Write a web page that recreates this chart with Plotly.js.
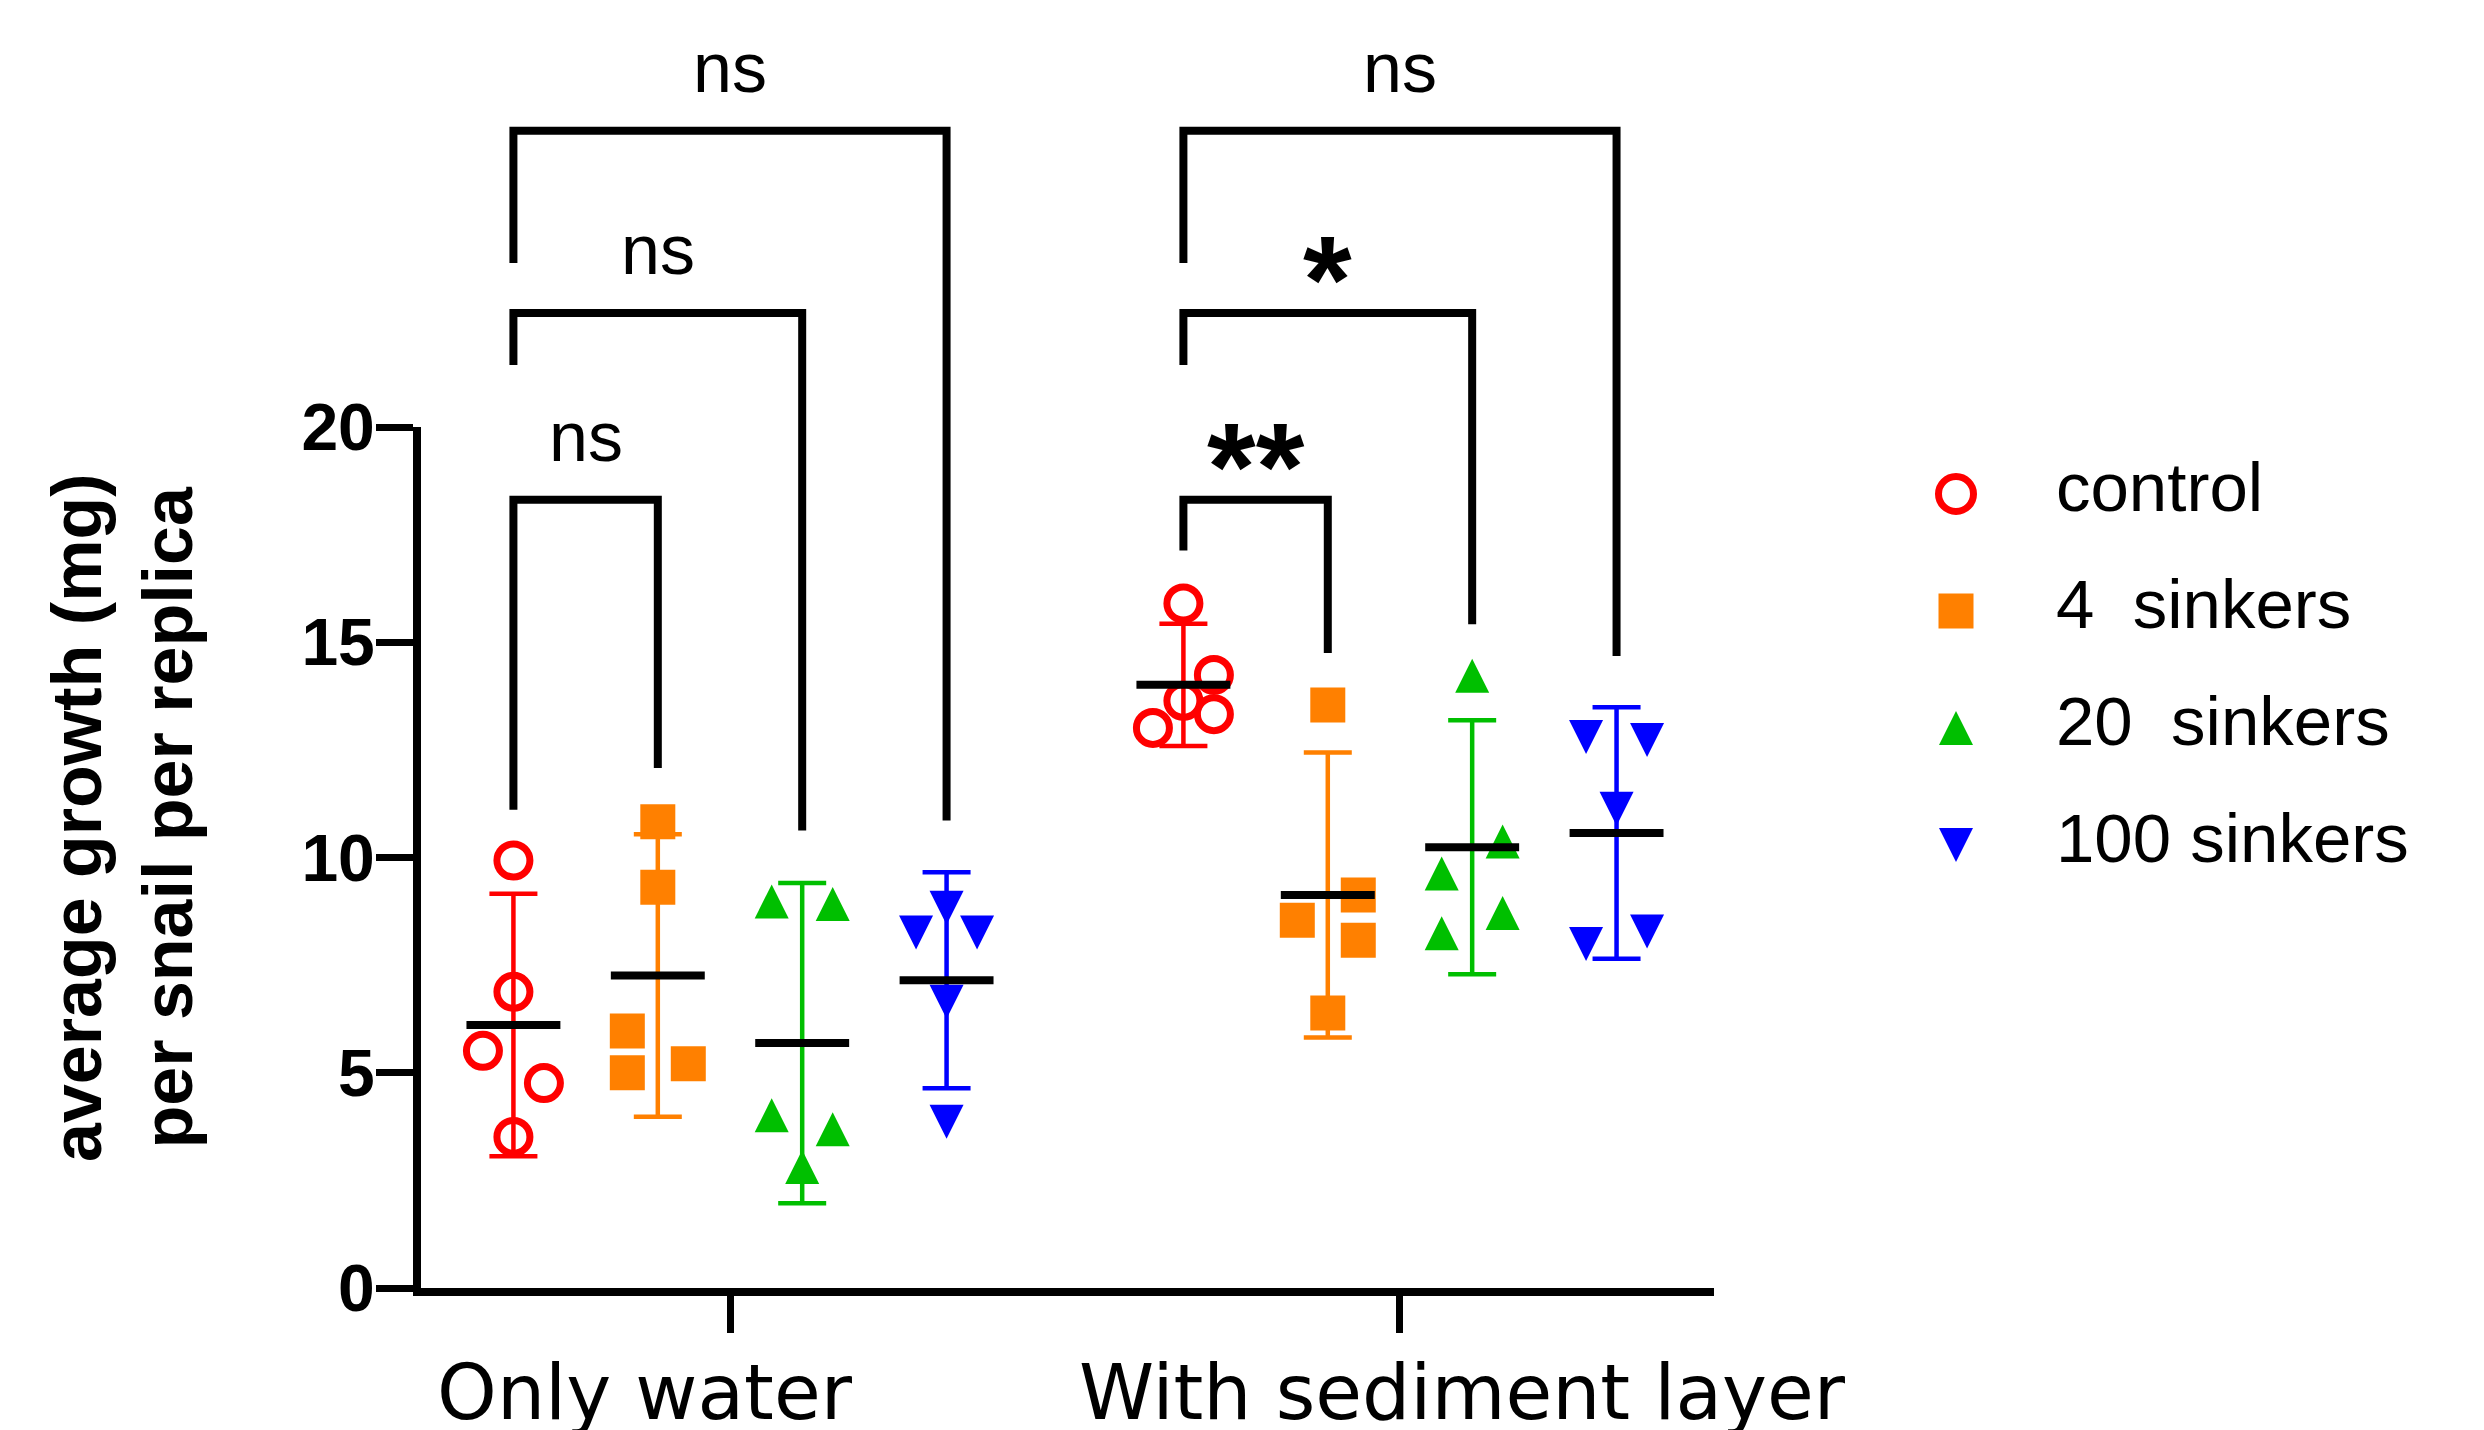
<!DOCTYPE html>
<html>
<head>
<meta charset="utf-8">
<script src="https://cdn.plot.ly/plotly-3.0.1.min.js"></script>
<style>
html, body { margin: 0; padding: 0; background: #ffffff; }
#chart { width: 2484px; height: 1430px; }
</style>
</head>
<body>
<div id="chart"></div>
<script>
// ================= DATA =================
const groups = ['Only water', 'With sediment layer'];
const seriesNames = ['control', '4\u00a0\u00a0sinkers', '20\u00a0\u00a0sinkers', '100 sinkers'];

// individual replicas: [Only water], [With sediment layer]
const control    = [[9.93, 6.88, 5.51, 4.76, 3.51], [15.90, 14.24, 13.64, 13.33, 13.01]];
const sinkers4   = [[10.83, 9.31, 5.97, 5.00, 5.21], [13.54, 9.13, 8.54, 8.08, 6.39]];
const sinkers20  = [[8.98, 8.92, 4.01, 3.69, 2.81], [14.22, 10.37, 9.63, 8.71, 8.24]];
const sinkers100 = [[8.83, 8.26, 8.26, 6.65, 3.86], [12.80, 12.73, 11.13, 7.99, 8.28]];

// group means (black bars) and error-bar half lengths
const meanControl = [6.11, 14.01];
const mean4       = [7.26, 9.13];
const mean20      = [5.69, 10.24];
const mean100     = [7.15, 10.57];
const errControl  = [3.05, 1.42];
const err4        = [3.28, 3.31];
const err20       = [3.72, 2.95];
const err100      = [2.51, 2.92];

// significance brackets (control vs. series "bracketTo" within each group)
const bracketGroup    = [0, 0, 0, 1, 1, 1];
const bracketTo       = [1, 2, 3, 1, 2, 3];
const bracketTop      = [18.31, 22.65, 26.88, 18.31, 22.65, 26.88];
const bracketLeftEnd  = [11.11, 21.44, 23.81, 17.13, 21.44, 23.81];
const bracketRightEnd = [12.08, 10.63, 10.86, 14.75, 15.42, 14.68];
const bracketLabel    = ['ns', 'ns', 'ns', '**', '*', 'ns'];

const yTicks = [0, 5, 10, 15, 20];

// ================= LAYOUT / STYLE =================
const W = 2484, H = 1430;
const plotL = 421, plotR = 1714;       // x-axis extent (px)
const y0px = 1288, y20px = 427;        // pixel rows of y = 0 and y = 20
const pxPerUnit = (y0px - y20px) / 20;
const yTopBracket = 29;                // headroom used by the brackets
const seriesStep = 0.2155;             // x distance between series of a group
const xRange = [0.5388, 2.4687];
const jitterStep = 0.0455;
const meanHalf = 0.0701;
const labelGap = 1.33;
const labelShift = [-0.1276, 0.0925];  // category label offset from tick

const colors = ['#FF0000', '#FF8000', '#00BF00', '#0000FF'];
const markerStyles = [
  { symbol: 'circle-open', size: 33, line: { width: 7, color: colors[0] }, color: colors[0] },
  { symbol: 'square', size: 35, color: colors[1], line: { width: 0 } },
  { symbol: 'arrow-down', angle: 180, standoff: 17, size: 34, color: colors[2], line: { width: 0 } },
  { symbol: 'arrow-down', standoff: 17, size: 34, color: colors[3], line: { width: 0 } }
];
// horizontal scatter slot of every replica (-1 left, 0 centre, 1 right)
const jitter = [
  [[0, 0, -1, 1, 0], [0, 1, 0, 1, -1]],
  [[0, 0, -1, -1, 1], [0, 1, -1, 1, 0]],
  [[-1, 1, -1, 1, 0], [0, 1, -1, 1, -1]],
  [[0, -1, 1, 0, 0], [-1, 1, 0, -1, 1]]
];

const seriesVals = [control, sinkers4, sinkers20, sinkers100];
const seriesMeans = [meanControl, mean4, mean20, mean100];
const seriesErr = [errControl, err4, err20, err100];
const groupPos = groups.map((g, i) => i + 1);
function sx(g, s) { return groupPos[g] + (s - 1.5) * seriesStep; }

const traces = [];

// error bars
seriesVals.forEach((vals, s) => {
  traces.push({
    type: 'scatter', mode: 'markers', xaxis: 'x', yaxis: 'y',
    x: groupPos.map((p, g) => sx(g, s)), y: seriesMeans[s],
    marker: { size: 2, opacity: 0 },
    error_y: { type: 'data', array: seriesErr[s], symmetric: true, color: colors[s], thickness: 4.5, width: 24 },
    hoverinfo: 'skip', showlegend: false
  });
});

// mean bars
seriesMeans.forEach((m, s) => {
  const xs = [], ys = [];
  m.forEach((v, g) => { xs.push(sx(g, s) - meanHalf, sx(g, s) + meanHalf, null); ys.push(v, v, null); });
  traces.push({
    type: 'scatter', mode: 'lines', xaxis: 'x2', yaxis: 'y',
    x: xs, y: ys, line: { color: '#000000', width: 8 },
    hoverinfo: 'skip', showlegend: false
  });
});

// individual points
seriesVals.forEach((vals, s) => {
  const xs = [], ys = [];
  vals.forEach((arr, g) => arr.forEach((v, i) => { xs.push(sx(g, s) + jitter[s][g][i] * jitterStep); ys.push(v); }));
  traces.push({
    type: 'scatter', mode: 'markers', xaxis: 'x', yaxis: 'y', name: seriesNames[s],
    x: xs, y: ys, marker: markerStyles[s], cliponaxis: false, showlegend: false
  });
});

// brackets
(function () {
  const xs = [], ys = [];
  bracketTop.forEach((top, b) => {
    const g = bracketGroup[b];
    const xl = sx(g, 0), xr = sx(g, bracketTo[b]);
    xs.push(xl, xl, xr, xr, null);
    ys.push(bracketLeftEnd[b], top, top, bracketRightEnd[b], null);
  });
  traces.push({
    type: 'scatter', mode: 'lines', xaxis: 'x', yaxis: 'y3',
    x: xs, y: ys, line: { color: '#000000', width: 8 },
    hoverinfo: 'skip', showlegend: false
  });
})();

// custom legend (large symbols)
const legX = 1956, legTextX = 2056, legY0 = 494, legGap = 117;
seriesNames.forEach((nm, s) => {
  traces.push({
    type: 'scatter', mode: 'markers', xaxis: 'x4', yaxis: 'y4',
    x: [legX], y: [legY0 + s * legGap],
    marker: Object.assign({}, markerStyles[s], s === 0 ? { size: 35 } : {}),
    hoverinfo: 'skip', showlegend: false, cliponaxis: false
  });
  traces.push({
    type: 'scatter', mode: 'text', xaxis: 'x4', yaxis: 'y4',
    x: [legTextX], y: [legY0 + s * legGap], text: [nm], textposition: 'middle right',
    textfont: { family: 'Liberation Sans, Arial, sans-serif', size: 69, color: '#000000' },
    hoverinfo: 'skip', showlegend: false, cliponaxis: false
  });
});

const annotations = [];
annotations.push({
  xref: 'paper', yref: 'paper', x: 122 / W, y: 1 - 818 / H,
  text: 'average growth (mg)<br>per snail per replica', textangle: -90,
  showarrow: false, xanchor: 'center', yanchor: 'middle',
  font: { family: 'Liberation Sans, Arial, sans-serif', size: 70, weight: 'bold', color: '#000000' }
});
bracketLabel.forEach((lab, b) => {
  const g = bracketGroup[b];
  const star = lab.indexOf('*') >= 0;
  annotations.push({
    xref: 'x', yref: 'y3', x: (sx(g, 0) + sx(g, bracketTo[b])) / 2, y: bracketTop[b] + labelGap,
    text: lab, showarrow: false, xanchor: 'center', yanchor: 'middle',
    yshift: star ? -24 : 6,
    font: star ? { family: 'Liberation Sans, Arial, sans-serif', size: 125, weight: 'bold', color: '#000000' }
               : { family: 'Liberation Sans, Arial, sans-serif', size: 70, color: '#000000' }
  });
});

const yDomBottom = (H - y0px) / H;
const layout = {
  width: W, height: H,
  margin: { l: 0, r: 0, t: 0, b: 0 },
  paper_bgcolor: '#ffffff', plot_bgcolor: 'rgba(0,0,0,0)',
  showlegend: false,
  font: { family: 'Liberation Sans, Arial, sans-serif', color: '#000000' },
  xaxis: {
    domain: [plotL / W, plotR / W], range: xRange, anchor: 'y',
    tickvals: groupPos, showticklabels: false,
    ticks: 'outside', ticklen: 37, tickwidth: 7, tickcolor: '#000000',
    showline: true, linewidth: 8, linecolor: '#000000',
    showgrid: false, zeroline: false, fixedrange: true
  },
  xaxis2: {
    overlaying: 'x', anchor: 'y', side: 'bottom', range: xRange,
    tickvals: groupPos.map((p, i) => p + labelShift[i]), ticktext: groups,
    ticks: '', showline: false, showgrid: false, zeroline: false, fixedrange: true,
    ticklabelstandoff: 54,
    tickfont: { family: 'DejaVu Sans, Verdana, sans-serif', size: 76, color: '#000000' }
  },
  yaxis: {
    domain: [yDomBottom, (H - y20px) / H], range: [0, 20], anchor: 'x',
    tickvals: yTicks, ticks: 'outside', ticklen: 37, tickwidth: 7, tickcolor: '#000000',
    showline: true, linewidth: 8, linecolor: '#000000',
    showgrid: false, zeroline: false, fixedrange: true,
    ticklabelstandoff: -12,
    tickfont: { family: 'Liberation Sans, Arial, sans-serif', size: 66, weight: 'bold', color: '#000000' }
  },
  yaxis3: {
    domain: [yDomBottom, (H - (y0px - yTopBracket * pxPerUnit)) / H], range: [0, yTopBracket],
    anchor: 'x', visible: false, fixedrange: true
  },
  xaxis4: { domain: [0.75, 1], range: [0.75 * W, W], anchor: 'y4', visible: false, fixedrange: true },
  yaxis4: { domain: [0, 1], range: [H, 0], anchor: 'x4', visible: false, fixedrange: true },
  annotations: annotations
};

Plotly.newPlot('chart', traces, layout, { staticPlot: true, displayModeBar: false });
</script>
</body>
</html>
